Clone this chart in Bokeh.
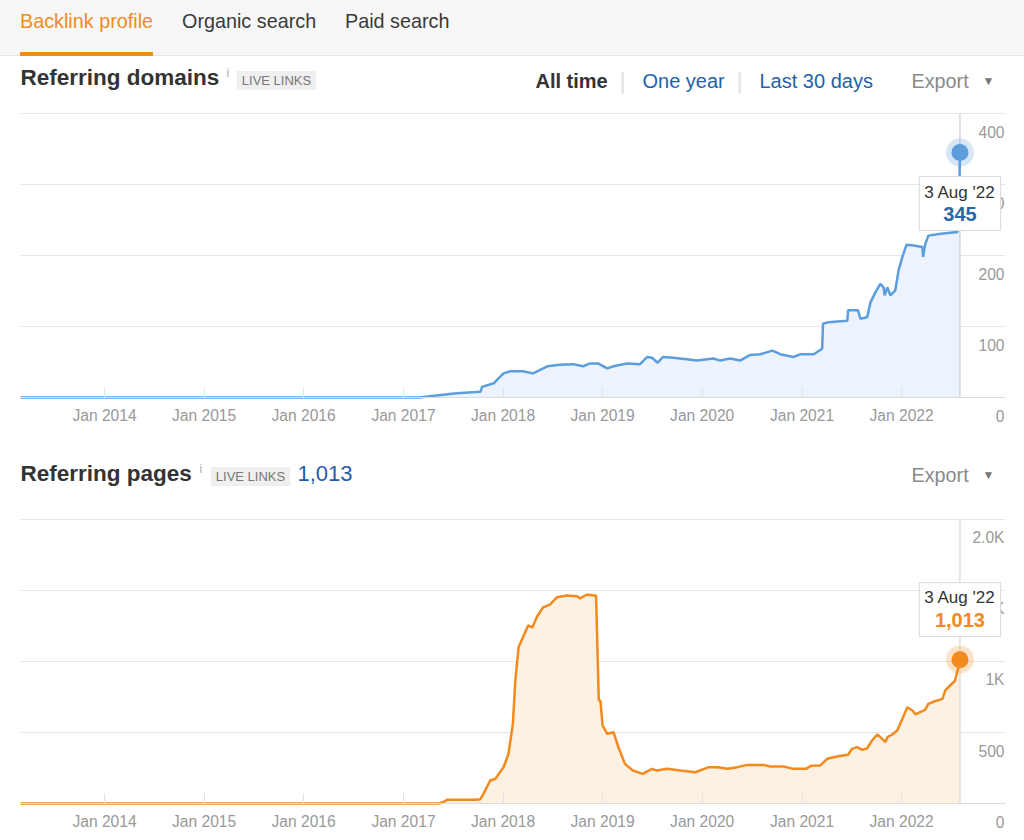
import pandas as pd
from bokeh.plotting import figure
from bokeh.models import (Range1d, FixedTicker, DatetimeTickFormatter, Label, LabelSet,
                          ColumnDataSource, Div)
from bokeh.core.properties import value
from bokeh.layouts import column
from bokeh.embed import file_html
from bokeh.resources import INLINE

FONT = "Liberation Sans"

# ---------------- data ----------------
tabs = ["Backlink profile", "Organic search", "Paid search"]
range_options = ["All time", "One year", "Last 30 days"]
x_tick_years = [2014, 2015, 2016, 2017, 2018, 2019, 2020, 2021, 2022]

dom_dates = [
    "2013-02-27", "2017-03-01", "2017-04-15", "2017-07-15", "2017-10-10", "2017-10-16",
    "2017-11-28", "2017-12-15", "2018-01-03", "2018-01-28", "2018-03-15", "2018-04-21",
    "2018-06-12", "2018-07-28", "2018-09-15", "2018-10-21", "2018-11-17", "2018-12-15",
    "2019-01-18", "2019-02-10", "2019-04-01", "2019-05-18", "2019-06-13", "2019-07-01",
    "2019-07-22", "2019-08-10", "2019-09-17", "2019-11-06", "2019-12-13", "2020-02-11",
    "2020-03-07", "2020-04-13", "2020-05-19", "2020-06-25", "2020-08-01", "2020-09-15",
    "2020-10-13", "2020-12-01", "2020-12-27", "2021-02-13", "2021-03-09", "2021-03-16",
    "2021-03-19", "2021-04-07", "2021-06-16", "2021-06-19", "2021-07-25", "2021-08-03",
    "2021-08-28", "2021-09-09", "2021-09-27", "2021-10-15", "2021-10-27", "2021-10-31",
    "2021-11-10", "2021-11-21", "2021-12-09", "2021-12-21", "2022-01-04", "2022-01-19",
    "2022-02-14", "2022-03-18", "2022-03-21", "2022-03-28", "2022-04-09", "2022-05-12",
    "2022-06-03", "2022-07-25", "2022-08-01", "2022-08-03",
]
dom_values = [
    0, 0, 2, 6, 8, 15,
    20, 27, 34, 37, 37, 34,
    44, 46, 47, 44, 48, 48,
    41, 44, 48, 47, 57, 56,
    49, 57, 56, 54, 52, 55,
    52, 55, 52, 60, 61, 66,
    61, 57, 61, 61, 67, 69,
    104, 106, 108, 123, 123, 111,
    113, 134, 148, 160, 155, 144,
    155, 144, 151, 179, 198, 215,
    214, 212, 198, 215, 228, 230,
    231, 233, 300, 345,
]

page_dates = [
    "2013-02-27", "2017-05-10", "2017-05-25", "2017-06-10", "2017-09-21", "2017-10-10",
    "2017-10-21", "2017-11-15", "2017-12-04", "2018-01-03", "2018-01-21", "2018-02-06",
    "2018-02-15", "2018-02-27", "2018-03-15", "2018-04-03", "2018-04-18", "2018-05-06",
    "2018-05-28", "2018-06-22", "2018-07-18", "2018-08-24", "2018-09-30", "2018-10-10",
    "2018-11-06", "2018-11-28", "2018-12-08", "2018-12-18", "2018-12-24", "2019-01-01",
    "2019-01-18", "2019-02-10", "2019-02-28", "2019-03-24", "2019-04-22", "2019-05-28",
    "2019-07-01", "2019-07-19", "2019-08-25", "2019-10-13", "2019-12-07", "2020-01-25",
    "2020-02-27", "2020-04-03", "2020-05-09", "2020-06-15", "2020-08-12", "2020-09-06",
    "2020-10-25", "2020-12-01", "2021-01-15", "2021-02-03", "2021-03-09", "2021-04-03",
    "2021-05-09", "2021-06-19", "2021-07-03", "2021-07-22", "2021-08-10", "2021-08-28",
    "2021-09-15", "2021-10-04", "2021-10-22", "2021-11-03", "2021-11-10", "2021-11-28",
    "2021-12-16", "2022-01-04", "2022-01-22", "2022-02-10", "2022-02-21", "2022-03-10",
    "2022-03-28", "2022-04-09", "2022-05-03", "2022-05-31", "2022-06-10", "2022-06-28",
    "2022-07-16", "2022-07-28", "2022-08-03",
]
page_values = [
    0, 0, 9, 26, 27, 30,
    68, 162, 174, 256, 350, 561,
    866, 1100, 1171, 1254, 1240, 1317,
    1382, 1401, 1453, 1465, 1460, 1444,
    1472, 1465, 1465, 725, 725, 549,
    491, 502, 396, 279, 232, 209,
    244, 232, 244, 232, 220, 256,
    256, 244, 256, 272, 272, 260,
    260, 244, 244, 265, 268, 315,
    331, 343, 385, 397, 378, 389,
    444, 486, 455, 432, 467, 486,
    514, 596, 678, 655, 627, 643,
    660, 702, 720, 737, 796, 831,
    866, 960, 1013,
]

dom_ticks = [0, 100, 200, 300, 400]
dom_tick_labels = ["0", "100", "200", "300", "400"]
page_ticks = [0, 500, 1000, 1500, 2000]
page_tick_labels = ["0", "500", "1K", "1.5K", "2.0K"]

last_date_label = "3 Aug '22"
dom_total_label = "345"
page_total_label = "1,013"

X_START = pd.Timestamp("2013-02-27")
X_END = pd.Timestamp("2023-01-17")

ORANGE = "#f28a1e"
BLUE_TXT = "#2461a8"
GREY_TXT = "#999999"
FRAME_LEFT = 20


def screen_label(p, text, cx, cy, fig_bottom, size, color, bold=False, align="left", **kw):
    # cx, cy: page pixel position; converted to frame-relative screen units
    p.add_layout(Label(x=cx - FRAME_LEFT, y=fig_bottom - cy,
                       x_units="screen", y_units="screen", text=text,
                       text_font=FONT, text_font_size=f"{size}px", text_color=color,
                       text_font_style="bold" if bold else "normal",
                       text_align=align, text_baseline="middle", **kw))


def make_chart(dates, values, ticks, tick_labels, fig_top, fig_h, plot_top, plot_bottom,
               line_color, fill_color, cursor_color, value_color,
               total_label, tip_box_dy, tip_val_dy, tip_pad):
    d = pd.to_datetime(dates)
    src = ColumnDataSource(dict(x=d, y=values))
    scale = (plot_bottom - plot_top) / (ticks[-1] - ticks[0])
    y_start = ticks[0] - (fig_top + fig_h - plot_bottom) / scale
    y_end = ticks[-1] + (plot_top - fig_top) / scale
    p = figure(width=1024, height=fig_h, x_axis_type="datetime", y_axis_location=None,
               x_range=Range1d(X_START, X_END), y_range=Range1d(y_start, y_end),
               output_backend="svg", toolbar_location=None, title=None,
               min_border_left=FRAME_LEFT, min_border_right=19,
               min_border_top=0, min_border_bottom=0)
    p.outline_line_color = None
    p.background_fill_color = "white"
    p.border_fill_color = "white"
    p.xgrid.visible = False
    p.ygrid.ticker = FixedTicker(ticks=ticks)
    p.ygrid.grid_line_color = "#e6e6e6"

    ax = p.xaxis[0]
    ax.fixed_location = ticks[0]
    ax.ticker = FixedTicker(ticks=[pd.Timestamp(f"{y}-01-01").value / 1e6 for y in x_tick_years])
    ax.formatter = DatetimeTickFormatter(years="%b %Y", months="%b %Y", days="%b %Y",
                                         hours="%b %Y", minutes="%b %Y")
    ax.major_tick_in = 10
    ax.major_tick_out = 0
    ax.minor_tick_line_color = None
    ax.major_tick_line_color = "#e3e3e3"
    ax.axis_line_color = "#dcdcdc"
    ax.major_label_text_color = GREY_TXT
    ax.major_label_text_font = FONT
    ax.major_label_text_font_size = "15.6px"
    ax.major_label_standoff = 9

    p.varea(x="x", y1=0, y2="y", source=src, fill_color=fill_color)
    p.segment(x0=[d[-1]], y0=[ticks[0]], x1=[d[-1]], y1=[ticks[-1]],
              line_color=cursor_color, line_width=1.2)
    p.line(x="x", y="y", source=src, line_color=line_color, line_width=2.5)

    ysrc = ColumnDataSource(dict(x=[X_END] * len(ticks), y=ticks, t=tick_labels))
    p.add_layout(LabelSet(x="x", y="y", text="t", source=ysrc, text_align="right",
                          text_baseline="middle", x_offset=-1, y_offset=-18,
                          text_font=value(FONT), text_font_size=value("15.6px"),
                          text_color=GREY_TXT))

    p.scatter(x=[d[-1]], y=[values[-1]], size=28, fill_color=line_color, fill_alpha=0.25,
              line_color=None)
    p.scatter(x=[d[-1]], y=[values[-1]], size=17, fill_color=line_color, line_color=None)

    p.add_layout(Label(x=d[-1], y=values[-1], text=last_date_label, y_offset=tip_box_dy,
                       text_align="center", text_baseline="middle", text_font=FONT,
                       text_font_size="17px", text_color="#333333",
                       background_fill_color="white", border_line_color="#d9d9d9",
                       padding=tip_pad))
    p.add_layout(Label(x=d[-1], y=values[-1], text=total_label, y_offset=tip_val_dy,
                       text_align="center", text_baseline="middle", text_font=FONT,
                       text_font_size="20px", text_font_style="bold", text_color=value_color))
    return p


# ---------------- tab bar ----------------
tab_x = [20, 182, 345]
spans = "".join(
    f'<span style="position:absolute;left:{x}px;top:9px;line-height:24px;white-space:nowrap;'
    f'color:{ORANGE if i == 0 else "#3a3a3a"}">{t}</span>'
    for i, (t, x) in enumerate(zip(tabs, tab_x)))
tab_html = (
    '<div style="position:relative;width:1024px;height:56px;background:#f7f7f7;'
    'border-bottom:1px solid #e6e6e6;font-family:\'Liberation Sans\',Arial,sans-serif;'
    f'font-size:19.8px;">{spans}'
    f'<div style="position:absolute;left:20px;top:52px;width:133px;height:4px;background:{ORANGE}"></div>'
    '</div>')
tab_div = Div(text=tab_html, width=1024, height=57, margin=0)

# ---------------- chart 1 ----------------
F1_TOP, F1_H = 57, 383
p1 = make_chart(dom_dates, dom_values, dom_ticks, dom_tick_labels, F1_TOP, F1_H, 113, 397,
                "#5c9ddc", "#ecf3fc", "#c8ced8", "#2b67a8", dom_total_label,
                -51, -61, dict(left=5, right=5, top=6, bottom=29))
B1 = F1_TOP + F1_H
screen_label(p1, "Referring domains", 20, 77, B1, 22.5, "#333333", bold=True)
screen_label(p1, "i", 226, 72, B1, 12, "#aaaaaa")
screen_label(p1, "LIVE LINKS", 276, 80, B1, 13, "#777777", align="center",
             background_fill_color="#efefef", padding=dict(left=5, right=5, top=2, bottom=2))
opt_x = [535, 642, 759]
for i, (t, x) in enumerate(zip(range_options, opt_x)):
    screen_label(p1, t, x, 80, B1, 20, "#333333" if i == 0 else BLUE_TXT, bold=(i == 0))
for sx in [622, 739]:
    screen_label(p1, "|", sx, 80, B1, 24, "#e2e2e2", align="center")
screen_label(p1, "Export", 911, 80, B1, 19.8, "#8a8a8a")
screen_label(p1, "\u25BC", 988, 80, B1, 12, "#777777", align="center")

# ---------------- chart 2 ----------------
F2_TOP, F2_H = 440, 400
p2 = make_chart(page_dates, page_values, page_ticks, page_tick_labels, F2_TOP, F2_H, 519, 803,
                ORANGE, "#fdf1e3", "#ddd6ce", ORANGE, page_total_label,
                50, 40, dict(left=5, right=5, top=5, bottom=30))
B2 = F2_TOP + F2_H
screen_label(p2, "Referring pages", 20, 473, B2, 22.5, "#333333", bold=True)
screen_label(p2, "i", 199, 468, B2, 12, "#aaaaaa")
screen_label(p2, "LIVE LINKS", 250, 476, B2, 13, "#777777", align="center",
             background_fill_color="#efefef", padding=dict(left=5, right=5, top=2, bottom=2))
screen_label(p2, page_total_label, 297, 473, B2, 22, "#1f5da8")
screen_label(p2, "Export", 911, 474, B2, 19.8, "#8a8a8a")
screen_label(p2, "\u25BC", 988, 474, B2, 12, "#777777", align="center")

layout = column(tab_div, p1, p2)
open("out.html", "w").write(file_html(layout, INLINE))
